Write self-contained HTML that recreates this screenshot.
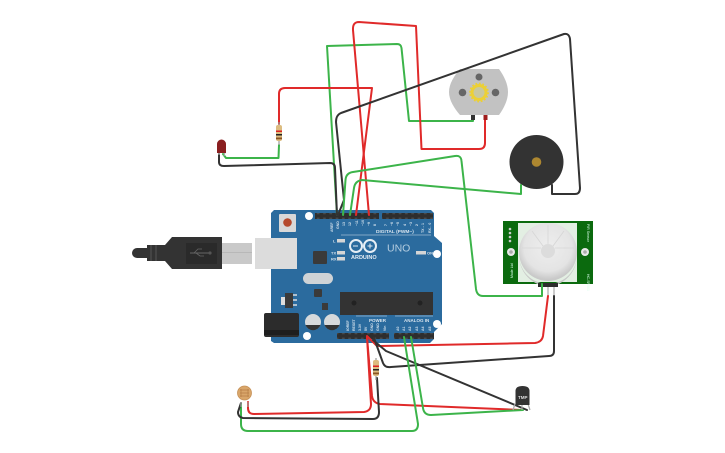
<!DOCTYPE html>
<html><head><meta charset="utf-8"><style>
html,body{margin:0;padding:0;background:#fff}
svg{display:block;filter:blur(.35px)}
text{font-family:"Liberation Sans",sans-serif}
.w{fill:none;stroke-width:2;stroke-linejoin:round;stroke-linecap:round}
.r{stroke:#e02a2a}.g{stroke:#3cb44a}.k{stroke:#333}
.l{fill:#d8e4ee;font-size:4px;font-weight:bold}
.hd{fill:#2e2e2e}
</style></head><body>
<svg width="725" height="453" viewBox="0 0 725 453" xmlns="http://www.w3.org/2000/svg">
<defs>
<pattern id="pin" width="6.3" height="6" patternUnits="userSpaceOnUse"><rect width="6.3" height="6" fill="#2e2e2e"/><rect x="1.8" y="1.6" width="2.7" height="2.7" fill="#4a4a4a"/></pattern>
<radialGradient id="dome" cx="50%" cy="42%" r="55%"><stop offset="0" stop-color="#eee"/><stop offset=".75" stop-color="#e4e4e4"/><stop offset="1" stop-color="#c9c9c9"/></radialGradient>
</defs>

<!-- USB cable -->
<g>
<path d="M137 248H147V258H137A5 5 0 0 1 137 248Z" fill="#333"/>
<path d="M147 245H165V261H147Z" fill="#333"/>
<path d="M151 245V261M156 245V261" stroke="#555" stroke-width="1"/>
<path d="M165 245L172 237H222V269H172L165 261Z" fill="#333"/>
<rect x="186" y="243" width="31" height="21" fill="#2a2a2a"/>
<path d="M190 253H210" stroke="#666" stroke-width="1"/><circle cx="210" cy="253" r="1.6" fill="#555"/><path d="M194 253L198 249H202M196 253L200 256H204" stroke="#666" stroke-width=".8" fill="none"/>
<rect x="222" y="243" width="30" height="21" fill="#c9c9c9"/>
<rect x="222" y="252" width="30" height="1" fill="#b8b8b8"/>
</g>

<!-- Arduino board -->
<path d="M274 210H431L434 213V236L442 243V324L434 332V339L430 343H274L271 341V213Z" fill="#2b6b9e"/>
<rect x="315" y="213" width="64" height="6" fill="url(#pin)"/>
<rect x="382" y="213" width="51" height="6" fill="url(#pin)"/>
<rect x="337" y="333" width="52" height="6" fill="url(#pin)"/>
<rect x="394" y="333" width="40" height="6" fill="url(#pin)"/>
<circle cx="309" cy="216" r="4" fill="#fff"/><circle cx="437" cy="254" r="4" fill="#fff"/><circle cx="437" cy="324" r="4" fill="#fff"/><circle cx="307" cy="336" r="4" fill="#fff"/>
<rect x="279" y="214" width="17" height="18" rx="1" fill="#d8d8d8"/><circle cx="287.500" cy="222.500" r="4.300" fill="#b5492c"/>
<rect x="255" y="238" width="42" height="31" fill="#dcdcdc"/>
<rect x="313" y="251" width="14" height="13" rx="1" fill="#3a3a3a"/>
<rect x="303" y="273" width="30" height="11" rx="5.500" fill="#cfd3d6"/>
<rect x="314" y="289" width="8" height="8" rx="1" fill="#3a3a3a"/>
<rect x="285" y="293" width="8" height="15" fill="#3a3a3a"/><rect x="281" y="297" width="4" height="8" fill="#ddd"/><path d="M293 295h4M293 300h4M293 305h4" stroke="#ddd" stroke-width="1.500"/>
<rect x="322" y="303" width="6" height="7" fill="#3a3a3a"/>
<rect x="340" y="292" width="93" height="23" fill="#333"/><circle cx="354" cy="303" r="2.500" fill="#222"/><circle cx="420" cy="303" r="2.500" fill="#222"/>
<rect x="264" y="313" width="35" height="24" rx="2" fill="#2c2c2c"/><rect x="264" y="330" width="35" height="5" fill="#1e1e1e"/>
<circle cx="313" cy="322" r="8" fill="#d6d9db"/><path d="M305.500 325A8 8 0 0 0 320.500 325Z" fill="#333"/>
<circle cx="332" cy="322" r="8" fill="#d6d9db"/><path d="M324.500 325A8 8 0 0 0 339.500 325Z" fill="#333"/>
<rect x="337" y="239" width="8" height="3.500" fill="#d5d5d5"/><rect x="337" y="251" width="8" height="3.500" fill="#d5d5d5"/><rect x="337" y="257" width="8" height="3.500" fill="#d5d5d5"/><rect x="416" y="251" width="10" height="3.500" fill="#d5d5d5"/>
<text x="333" y="242.500" class="l">L</text><text x="331" y="254.500" class="l">TX</text><text x="331" y="260.500" class="l">RX</text><text x="427" y="254.500" class="l">ON</text>
<path d="M341 235H431" stroke="#d8e4ee" stroke-width=".6"/>
<path d="M356 316H387M395 316H433" stroke="#d8e4ee" stroke-width=".6"/>
<text x="376" y="233" class="l" style="font-size:4.800px">DIGITAL (PWM~)</text>
<text x="369" y="322" class="l" style="font-size:4.500px">POWER</text>
<text x="404" y="322" class="l" style="font-size:4.500px">ANALOG IN</text>
<circle cx="356" cy="246" r="6" fill="none" stroke="#e6eef5" stroke-width="2"/><circle cx="370" cy="246" r="6" fill="none" stroke="#e6eef5" stroke-width="2"/>
<path d="M353 246h5M367.500 246h5M370 243.500v5" stroke="#e6eef5" stroke-width="1"/>
<text x="351" y="259" style="font-size:5.500px;font-weight:bold" fill="#e6eef5">ARDUINO</text>
<text x="387" y="251.500" style="font-size:10.500px" fill="#b4cde0">UNO</text>
<g class="l" style="font-size:3.500px">
<text transform="translate(333,232) rotate(-90)">AREF</text><text transform="translate(339,229) rotate(-90)">GND</text><text transform="translate(345,226) rotate(-90)">13</text><text transform="translate(351,226) rotate(-90)">12</text><text transform="translate(358,226) rotate(-90)">~11</text><text transform="translate(364,226) rotate(-90)">~10</text><text transform="translate(370,226) rotate(-90)">~9</text><text transform="translate(376,226) rotate(-90)">8</text>
<text transform="translate(387,226) rotate(-90)">7</text><text transform="translate(393,226) rotate(-90)">~6</text><text transform="translate(399,226) rotate(-90)">~5</text><text transform="translate(406,226) rotate(-90)">4</text><text transform="translate(412,226) rotate(-90)">~3</text><text transform="translate(418,226) rotate(-90)">2</text><text transform="translate(424,233) rotate(-90)">TX→1</text><text transform="translate(431,233) rotate(-90)">RX←0</text>
<text transform="translate(349,331) rotate(-90)">IOREF</text><text transform="translate(355,331) rotate(-90)">RESET</text><text transform="translate(361,331) rotate(-90)">3.3V</text><text transform="translate(367,331) rotate(-90)">5V</text><text transform="translate(373,331) rotate(-90)">GND</text><text transform="translate(379,331) rotate(-90)">GND</text><text transform="translate(386,331) rotate(-90)">Vin</text>
<text transform="translate(399,331) rotate(-90)">A0</text><text transform="translate(405,331) rotate(-90)">A1</text><text transform="translate(411,331) rotate(-90)">A2</text><text transform="translate(418,331) rotate(-90)">A3</text><text transform="translate(424,331) rotate(-90)">A4</text><text transform="translate(431,331) rotate(-90)">A5</text>
</g>

<!-- DC motor -->
<path d="M460 69H499C504 76 508 84 508 92C508 100 504 108 499 115H460C454 108 449 100 449 92C449 84 454 76 460 69Z" fill="#c2c2c2"/>
<circle cx="479" cy="77" r="3.500" fill="#666"/><circle cx="462.500" cy="92.500" r="3.800" fill="#666"/><circle cx="495.500" cy="92.500" r="3.800" fill="#666"/>
<circle cx="479" cy="92.500" r="7" fill="#c8c8a0" stroke="#ecd035" stroke-width="3"/>
<circle cx="479" cy="92.500" r="9" fill="none" stroke="#ecd035" stroke-width="1.800" stroke-dasharray="1.800 1.700"/>

<!-- Buzzer -->
<path d="M521 183V194M552 183V194" stroke="#aaa" stroke-width="1.400"/>
<circle cx="536.500" cy="162" r="27" fill="#333"/><circle cx="536.500" cy="162" r="4.800" fill="#ad8730"/>

<!-- PIR -->
<rect x="503" y="221" width="90" height="63" fill="#0b6a0e"/>
<rect x="518" y="223" width="59" height="59" fill="#e3efe3"/>
<circle cx="548" cy="252" r="29" fill="url(#dome)"/>
<path d="M519 255A29 29 0 0 0 577 255A29 31 0 0 1 519 255Z" fill="#c7c7c7"/>
<circle cx="548" cy="251" r="7" fill="#dcdcdc"/>
<path d="M548 225V244M532 231L543 246M564 231L553 246M522 248H541M574 248H555" stroke="#d6d6d6" stroke-width=".8"/>
<circle cx="511" cy="252" r="4" fill="#e8e8e8"/><circle cx="511" cy="252" r="1.800" fill="#aaa"/>
<circle cx="585" cy="252" r="4" fill="#e8e8e8"/><circle cx="585" cy="252" r="1.800" fill="#aaa"/>
<circle cx="510" cy="229" r="1.300" fill="#ccc"/><circle cx="510" cy="233" r="1.300" fill="#ccc"/><circle cx="510" cy="237" r="1.300" fill="#ccc"/><circle cx="510" cy="241" r="1.300" fill="#ccc"/>
<text transform="translate(513,278) rotate(-90)" fill="#dfe" style="font-size:3.500px">Made Ltd</text>
<text transform="translate(587,274) rotate(90)" fill="#dfe" style="font-size:3.500px">HC-SR501</text>
<text transform="translate(587,224) rotate(90)" fill="#dfe" style="font-size:3.500px">PIR Sensor</text>
<rect x="538" y="283" width="20" height="4" fill="#2e2e2e"/>
<path d="M542 287V296M548 287V296M554 287V296" stroke="#aaa" stroke-width="1.200"/>

<!-- Wires -->
<path class="w g" d="M337 215L327 46L397 44Q401 44 401.500 48L409 121H473V118"/>
<path class="w r" d="M369 215L353 30Q352.500 22 359 22L416 26L421.500 149H479Q485 149 485 143V119"/>
<path class="w r" d="M356 215L372 88H285Q279 88 279 94V124"/>
<path class="w g" d="M279 145L278.500 158H226L223 154"/>
<path class="w k" d="M219 154V162Q219 166 224 166L330 163Q335 163 335 168L337 215"/>
<path class="w k" d="M338 215L344 200L336 122Q336 115 341 113L564 34Q569 33 570 39L580 188Q580 194 575 194H552V185"/>
<path class="w g" d="M350 215L354 188Q355 181 362 180L521 194V185"/>
<path class="w g" d="M343 215L345.500 180Q346 173 353 172L455 156Q461 155 461.500 161L476 289Q477 296 483 296H542V284"/>
<path class="w r" d="M367 336L377 346L535 343Q542 342 543 336L548 296"/>
<path class="w k" d="M374 338L383 363Q385 368 391 367L549 356Q554 356 554 351V296"/>
<path class="w k" d="M373 340L386 351L527 410"/>
<path class="w r" d="M367 337L372 396Q373 403 380 404L522 410"/>
<path class="w g" d="M411 337L423 408Q424 415 431 415L523 410"/>
<path class="w g" d="M404 337L418 424Q418 431 412 431H248Q241 431 241 424V404"/>
<path class="w r" d="M367 337L371 404Q371 411 364 412L254 414Q248 414 248 408V402"/>
<path class="w k" d="M377 378L379 412Q379 419 373 419L243 418Q238 417 238 412L241 403"/>

<!-- Motor terminals, drawn over the wire ends -->
<rect x="471" y="115" width="4" height="5" fill="#333"/><rect x="483.500" y="115" width="4" height="5" fill="#a01c1c"/>

<!-- LED -->
<path d="M219 152V155M225 152L224 156" stroke="#aaa" stroke-width="1.200"/>
<path d="M217 153V144A4.500 4.500 0 0 1 226 144V153Z" fill="#8a1f20"/>
<!-- LED resistor -->
<path d="M279 122V145" stroke="#999" stroke-width="1.200"/>
<rect x="276" y="125" width="6" height="16" rx="2" fill="#dcbc80"/>
<rect x="276" y="130.500" width="6" height="1.500" fill="#d22"/><rect x="276" y="134" width="6" height="1.500" fill="#222"/><rect x="276" y="137.500" width="6" height="1.800" fill="#8a5522"/>
<!-- bottom resistor -->
<path d="M376 358V380" stroke="#999" stroke-width="1.200"/>
<rect x="373" y="360" width="6" height="16" rx="2" fill="#dcbc80"/>
<rect x="373" y="365.500" width="6" height="1.500" fill="#d22"/><rect x="373" y="369" width="6" height="1.500" fill="#222"/><rect x="373" y="372.500" width="6" height="1.800" fill="#8a5522"/>

<!-- Photoresistor -->
<path d="M241 402V407M248 402V407" stroke="#aaa" stroke-width="1.200"/>
<circle cx="244.500" cy="393" r="7" fill="#d9a66a" stroke="#c69158" stroke-width=".8"/>
<path d="M240 390H249M240 393H249M240 396H249M241 389V397M248 389V397" stroke="#b57d45" stroke-width=".7"/>

<!-- Temperature sensor -->
<path d="M515 404L513 410M522 404V410M528 404L530 410" stroke="#aaa" stroke-width="1.200"/>
<path d="M515.500 405V391Q515.500 386 522.500 386Q529.500 386 529.500 391V405Z" fill="#333"/>
<text x="518" y="399" fill="#ddd" style="font-size:4.500px;font-weight:bold">TMP</text>
</svg>
</body></html>
